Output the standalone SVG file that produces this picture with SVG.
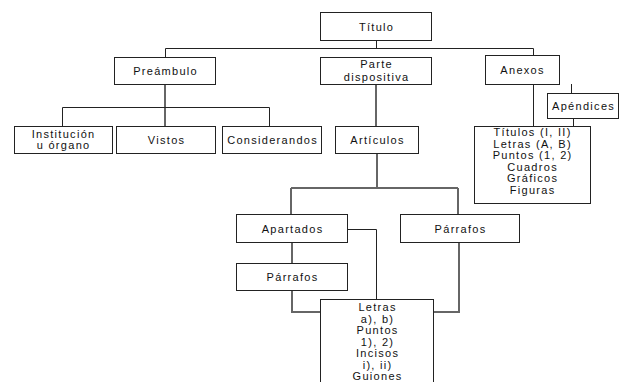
<svg xmlns="http://www.w3.org/2000/svg" width="619" height="382" viewBox="0 0 619 382">
<style>
.box{fill:#fff;stroke:#222;stroke-width:1}
.t{font-family:"Liberation Sans",Arial,sans-serif;font-size:11px;letter-spacing:1.3px;fill:#111;text-anchor:middle;dominant-baseline:central}
.c{fill:none;stroke:#222;stroke-width:1}
.g{fill:none;stroke:#666;stroke-width:2}
</style>
<rect width="619" height="382" fill="#fff"/>
<g id="connectors">
<path class="c" d="M376.5 40V48.5M165.5 48.5H533.5M165.5 48.5V57M533.5 48.5V55"/>
<path class="g" d="M165 84V126"/>
<path class="c" d="M62.5 107.5H269.5M62.5 107.5V126M269.5 107.5V126"/>
<path class="g" d="M376 84V126"/>
<path class="c" d="M533.5 84V126M571.5 84V93M573.5 118V126"/>
<path class="g" d="M377 153V188"/>
<path class="g" d="M291 188H458M291 188V214M458 188V214"/>
<path class="c" d="M347 229.5H376.5V299"/>
<path class="g" d="M292 242V263"/>
<path class="g" d="M292 290V312H320"/>
<path class="g" d="M459 242V312H433"/>
</g>
<g id="titulo"><rect class="box" x="320.5" y="12.5" width="111" height="28"/><text class="t" x="376.6" y="26.5">Título</text></g>
<g id="preambulo"><rect class="box" x="114.5" y="57.5" width="101" height="27"/><text class="t" x="165.6" y="71">Preámbulo</text></g>
<g id="parte"><rect class="box" x="320.5" y="57.5" width="111" height="27"/><text class="t" x="376.6" y="64">Parte</text><text class="t" x="376.6" y="77">dispositiva</text></g>
<g id="anexos"><rect class="box" x="485.5" y="55.5" width="74" height="29"/><text class="t" x="522.6" y="70">Anexos</text></g>
<g id="apendices"><rect class="box" x="547.5" y="93.5" width="71" height="25"/><text class="t" x="583.6" y="106">Apéndices</text></g>
<g id="institucion"><rect class="box" x="14.5" y="126.5" width="98" height="27"/><text class="t" x="63.6" y="133.5">Institución</text><text class="t" x="63.6" y="145">u órgano</text></g>
<g id="vistos"><rect class="box" x="116.5" y="126.5" width="99" height="27"/><text class="t" x="166.6" y="140">Vistos</text></g>
<g id="considerandos"><rect class="box" x="222.5" y="126.5" width="99" height="27"/><text class="t" x="272.6" y="140">Considerandos</text></g>
<g id="articulos"><rect class="box" x="335.5" y="126.5" width="83" height="27"/><text class="t" x="377.6" y="140">Artículos</text></g>
<g id="titulos"><rect class="box" x="474.5" y="126.5" width="116" height="77"/>
<text class="t" x="532.6" y="132">Títulos (I, II)</text>
<text class="t" x="532.6" y="143.5">Letras (A, B)</text>
<text class="t" x="532.6" y="155">Puntos (1, 2)</text>
<text class="t" x="532.6" y="166.5">Cuadros</text>
<text class="t" x="532.6" y="178">Gráficos</text>
<text class="t" x="532.6" y="189.5">Figuras</text></g>
<g id="apartados"><rect class="box" x="236.5" y="214.5" width="111" height="28"/><text class="t" x="292.6" y="228.5">Apartados</text></g>
<g id="parrafos2"><rect class="box" x="400.5" y="214.5" width="119" height="28"/><text class="t" x="460.6" y="228.5">Párrafos</text></g>
<g id="parrafos1"><rect class="box" x="236.5" y="263.5" width="111" height="27"/><text class="t" x="292.6" y="277">Párrafos</text></g>
<g id="letras"><rect class="box" x="320.5" y="299.5" width="113" height="90"/>
<text class="t" x="377.6" y="307">Letras</text>
<text class="t" x="377.6" y="318.5">a), b)</text>
<text class="t" x="377.6" y="330">Puntos</text>
<text class="t" x="377.6" y="341.5">1), 2)</text>
<text class="t" x="377.6" y="353">Incisos</text>
<text class="t" x="377.6" y="364.5">i), ii)</text>
<text class="t" x="377.6" y="376">Guiones</text></g>
</svg>
